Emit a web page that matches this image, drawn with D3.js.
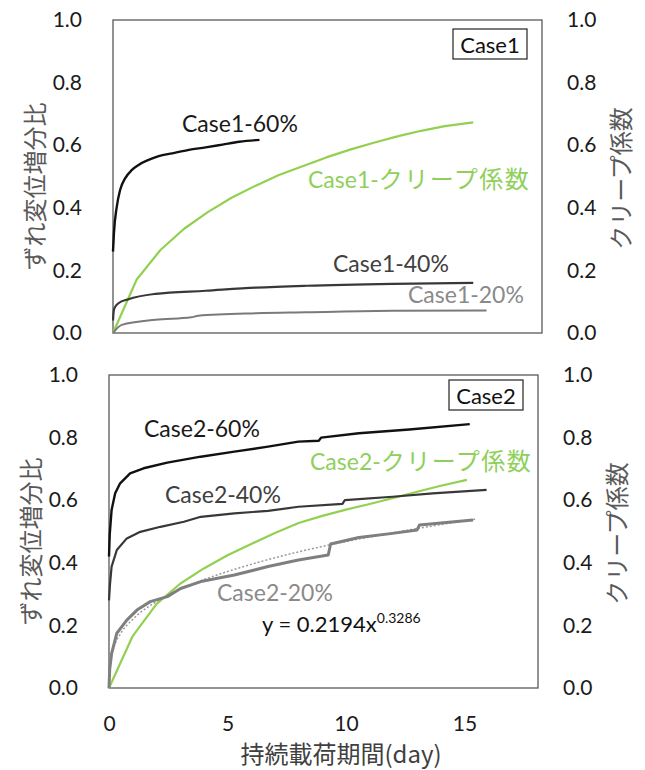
<!DOCTYPE html>
<html>
<head>
<meta charset="utf-8">
<script src="https://cdn.jsdelivr.net/npm/d3@7"></script>
<style>
  html, body { margin: 0; padding: 0; background: #fff; }
  svg { display: block; }
  text { font-family: Lato, "Noto Sans CJK JP", sans-serif; }
  .jp { font-family: "Noto Sans CJK JP", sans-serif; }
</style>
</head>
<body>
<svg id="chart" width="645" height="770"></svg>
<script>
// ---------------- DATA ----------------
const xTicks = [0, 5, 10, 15];
const yTicks = [0, 0.2, 0.4, 0.6, 0.8, 1.0];
const xTitle = "持続載荷期間(day)";
const yTitleLeft = "ずれ変位増分比";
const yTitleRight = "クリープ係数";
const panelNames = ["Case1", "Case2"];

// Case1 series: [day, value]
const case1_60 = [[0,0.26],[0.04,0.32],[0.16,0.404],[0.30,0.457],[0.51,0.494],[0.80,0.521],[1.08,0.537],[1.50,0.553],[1.93,0.565],[2.50,0.574],[3.2,0.585],[3.91,0.593],[4.62,0.602],[5.33,0.611],[6.18,0.617]];
const case1_40 = [[0,0.04],[0.03,0.07],[0.08,0.082],[0.23,0.095],[0.65,0.108],[1.79,0.125],[3.91,0.135],[6.04,0.145],[8.17,0.151],[11.8,0.157],[15.2,0.160]];
const case1_20 = [[0,0],[0.37,0.026],[1.79,0.042],[3.3,0.05],[3.6,0.055],[6.04,0.063],[8.17,0.066],[11.8,0.071],[15.76,0.072]];
const case1_creep = [[0,0],[1,0.171],[2,0.265],[3,0.333],[4,0.386],[5,0.432],[6,0.47],[7,0.505],[8,0.533],[9,0.561],[10,0.586],[11,0.608],[12,0.628],[13,0.646],[14,0.661],[15.2,0.673]];

// Case2 series: [day, value]
const case2_60 = [[0,0.42],[0.03,0.49],[0.11,0.569],[0.26,0.622],[0.47,0.654],[0.89,0.686],[1.46,0.702],[2.46,0.72],[3.87,0.739],[5.29,0.755],[6.71,0.771],[7.99,0.787],[8.85,0.79],[8.95,0.80],[10.54,0.814],[12.67,0.826],[15.22,0.843]];
const case2_40 = [[0,0.28],[0.04,0.33],[0.11,0.388],[0.33,0.441],[0.75,0.478],[1.32,0.499],[2.17,0.515],[3.16,0.531],[3.87,0.547],[5.29,0.558],[6.71,0.566],[7.99,0.579],[9.85,0.588],[9.95,0.60],[11.96,0.611],[13.66,0.622],[15.93,0.633]];
const case2_20 = [[0,0],[0.03,0.06],[0.11,0.11],[0.33,0.175],[0.75,0.217],[1.18,0.249],[1.74,0.276],[2.46,0.292],[3.02,0.318],[3.87,0.34],[5.29,0.361],[6.71,0.388],[7.99,0.409],[9.25,0.425],[9.35,0.46],[10.54,0.481],[11.96,0.494],[13.0,0.505],[13.1,0.521],[15.36,0.537]];
const case2_creep = [[0,0],[1,0.166],[2,0.268],[3,0.333],[4,0.382],[5,0.424],[6,0.46],[7,0.495],[8,0.527],[9,0.55],[10,0.57],[11,0.588],[12,0.607],[13,0.627],[14,0.646],[15.1,0.665]];
// power-law trendline of Case2-20%
const case2_20_fit = [[0.05,0.082],[0.2,0.129],[0.5,0.175],[1,0.219],[2,0.276],[3,0.315],[4,0.346],[6,0.395],[8,0.435],[10,0.468],[12,0.496],[14,0.522],[15.5,0.540]];

const seriesLabels1 = ["Case1-60%", "Case1-40%", "Case1-20%", "Case1-クリープ係数"];
const seriesLabels2 = ["Case2-60%", "Case2-40%", "Case2-20%", "Case2-クリープ係数"];
const fitCoef = "0.2194";
const fitExp = "0.3286";

// ---------------- DRAW ----------------
const svg = d3.select("#chart");
svg.append("rect").attr("width", 645).attr("height", 770).attr("fill", "#fff");

const W = 429, H = 313;
const x = d3.scaleLinear().domain([0, 18.1]).range([0, W]);
const y = d3.scaleLinear().domain([0, 1]).range([H, 0]);
const line = d3.line().x(d => x(d[0])).y(d => y(d[1]));
const smooth = d3.line().x(d => x(d[0])).y(d => y(d[1])).curve(d3.curveMonotoneX);

const C60 = "#111", C40 = "#383838", C20 = "#7a7a7a", GREEN = "#92D050";

function panel(left, top, name, showX) {
  const g = svg.append("g").attr("transform", `translate(${left},${top})`);
  const ya = g.append("g").call(d3.axisLeft(y).tickValues(yTicks).tickFormat(d3.format(".1f")).tickSize(0).tickPadding(31));
  ya.select(".domain").remove();
  ya.selectAll("text").attr("font-family", "Lato").attr("font-size", 21).attr("fill", "#1a1a1a");
  const yr = g.append("g").attr("transform", `translate(${W},0)`)
    .call(d3.axisRight(y).tickValues(yTicks).tickFormat(d3.format(".1f")).tickSize(0).tickPadding(25));
  yr.select(".domain").remove();
  yr.selectAll("text").attr("font-family", "Lato").attr("font-size", 21).attr("fill", "#1a1a1a");
  if (showX) {
    const xa = g.append("g").attr("transform", `translate(0,${H})`)
      .call(d3.axisBottom(x).tickValues(xTicks).tickFormat(d3.format("d")).tickSize(0).tickPadding(28));
    xa.select(".domain").remove();
    xa.selectAll("text").attr("font-family", "Lato").attr("font-size", 21).attr("fill", "#1a1a1a");
  }
  g.append("rect").attr("width", W).attr("height", H).attr("fill", "none").attr("stroke", "#595959").attr("stroke-width", 1.3);
  g.append("rect").attr("x", 340).attr("y", top === 20 ? 9 : 5).attr("width", 74).attr("height", 30)
    .attr("fill", "#fff").attr("stroke", "#222").attr("stroke-width", 1.2);
  g.append("text").attr("x", 377).attr("y", top === 20 ? 33 : 29).attr("text-anchor", "middle")
    .attr("font-size", 22).attr("fill", "#111").text(name);
  svg.append("text").attr("class", "jp").attr("transform", `translate(${left - 80},${top + H / 2 + 10}) rotate(-90)`)
    .attr("text-anchor", "middle").attr("dominant-baseline", "central").attr("font-size", 24).attr("fill", "#595959")
    .text(yTitleLeft);
  svg.append("text").attr("class", "jp").attr("transform", `translate(${left + W + 77},${top + H / 2 + 2}) rotate(-90)`)
    .attr("text-anchor", "middle").attr("dominant-baseline", "central").attr("font-size", 24).attr("fill", "#595959")
    .text(yTitleRight);
  return g;
}

function path(g, data, color, width, gen, dash) {
  const p = g.append("path").datum(data).attr("d", gen || line).attr("fill", "none")
    .attr("stroke", color).attr("stroke-width", width).attr("stroke-linejoin", "round");
  if (dash) p.attr("stroke-dasharray", dash);
  return p;
}

function label(g, px, py, txt, color) {
  const t = g.append("text").attr("x", px).attr("y", py).attr("font-size", 23).attr("fill", color);
  const m = txt.match(/^(Case\d-)(.*)$/);
  if (m && /[^\x00-\x7F]/.test(m[2])) {
    t.append("tspan").text(m[1]);
    t.append("tspan").attr("font-family", "'Noto Sans CJK JP'").attr("font-size", 24)
      .attr("letter-spacing", 1.5).text(m[2]);
  } else {
    t.text(txt);
  }
  return t;
}

// ----- Panel 1 -----
const L1 = 113, T1 = 20;
const g1 = panel(L1, T1, panelNames[0], false);
path(g1, case1_creep, GREEN, 2.2);
path(g1, case1_20, C20, 2, smooth);
path(g1, case1_40, C40, 2.2, smooth);
path(g1, case1_60, C60, 2.4, smooth);
label(g1, 69, 112, seriesLabels1[0], "#1a1a1a");
label(g1, 220, 252, seriesLabels1[1], "#404040");
label(g1, 295, 283, seriesLabels1[2], "#8a8a8a");
label(g1, 195, 168, seriesLabels1[3], "#8fd05c");

// ----- Panel 2 -----
const L2 = 109, T2 = 375;
const g2 = panel(L2, T2, panelNames[1], true);
path(g2, case2_creep, GREEN, 2.2);
path(g2, case2_20_fit, "#9a9a9a", 1.5, smooth, "2,2");
path(g2, case2_20, "#7f7f7f", 3, line);
path(g2, case2_40, C40, 2.2, line);
path(g2, case2_60, C60, 2.4, line);
label(g2, 35, 62, seriesLabels2[0], "#1a1a1a");
label(g2, 56, 128, seriesLabels2[1], "#404040");
label(g2, 108, 226, seriesLabels2[2], "#8a8a8a");
label(g2, 201, 95, seriesLabels2[3], "#8fd05c");
const eq = g2.append("text").attr("x", 153).attr("y", 257).attr("font-size", 22).attr("fill", "#111");
eq.append("tspan").text(`y = ${fitCoef}x`);
eq.append("tspan").attr("font-size", 14).attr("dy", -9).text(fitExp);

svg.append("text").attr("class", "jp").attr("x", 341).attr("y", 763).attr("text-anchor", "middle")
  .attr("font-size", 24).attr("fill", "#404040").text(xTitle);
</script>
</body>
</html>
